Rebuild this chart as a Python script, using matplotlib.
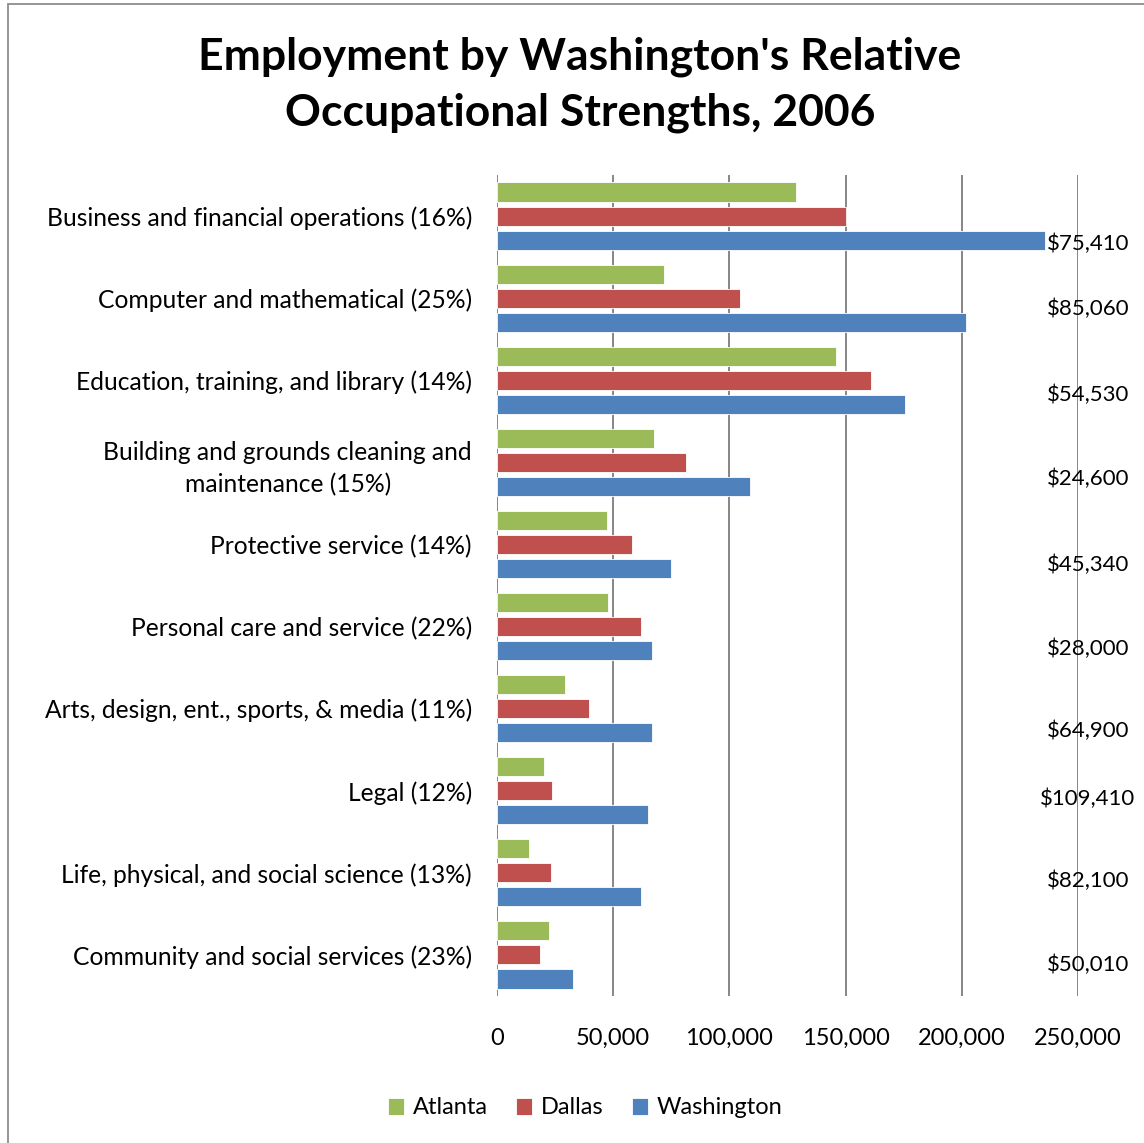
import numpy as np
import matplotlib.pyplot as plt
from matplotlib.patches import Rectangle
from matplotlib.ticker import FuncFormatter

plt.rcParams['font.family'] = ['Lato', 'DejaVu Sans']

occupations = [
    "Business and financial operations (16%)",
    "Computer and mathematical (25%)",
    "Education, training, and library (14%)",
    "Building and grounds cleaning and\nmaintenance (15%)",
    "Protective service (14%)",
    "Personal care and service (22%)",
    "Arts, design, ent., sports, & media (11%)",
    "Legal (12%)",
    "Life, physical, and social science (13%)",
    "Community and social services (23%)",
]
atlanta = [128500, 71800, 145700, 67500, 47300, 47700, 29200, 20200, 13800, 22400]
dallas = [150000, 104500, 160800, 81300, 58000, 61900, 39600, 23600, 23200, 18500]
washington = [236000, 202000, 175400, 108800, 74800, 66600, 66600, 64900, 61900, 32700]
salaries = ["$75,410", "$85,060", "$54,530", "$24,600", "$45,340",
            "$28,000", "$64,900", "$109,410", "$82,100", "$50,010"]

series = [("Atlanta", atlanta, "#9BBB59"),
          ("Dallas", dallas, "#C0504D"),
          ("Washington", washington, "#4F81BD")]

fig = plt.figure(figsize=(11.44, 11.43), dpi=100)
ax = fig.add_axes([0.4344, 0.1286, 0.5079, 0.7183])

y = np.arange(len(occupations))
pitch = 0.293
height = 0.232
for i, (name, vals, col) in enumerate(series):
    ax.barh(y + (i - 1) * pitch, vals, height=height, color=col,
            edgecolor='white', linewidth=0.6, label=name, zorder=3)

ax.set_ylim(len(occupations) - 0.5, -0.5)
ax.set_xlim(0, 250000)
ax.set_xticks(np.arange(0, 250001, 50000))
ax.xaxis.set_major_formatter(FuncFormatter(lambda v, p: f"{int(v):,}"))
ax.set_yticks(y)
ax.set_yticklabels(occupations)
for lab in ax.get_yticklabels():
    lab.set_multialignment('center')
    lab.set_linespacing(1.45)
ax.tick_params(axis='y', length=0, pad=18, labelsize=17.7)
ax.tick_params(axis='x', length=0, pad=23, labelsize=17)

ax.grid(axis='x', color='#868686', linewidth=1.4, zorder=0)
for s in ax.spines.values():
    s.set_visible(False)

# salary notes on the right edge
salary_y = [244, 309, 395, 479, 565, 649, 731, 799, 881, 965]
for txt, py in zip(salaries, salary_y):
    fig.text(1088 / 1144, 1 - py / 1143, txt, ha='center', va='center', fontsize=16)

fig.text(580 / 1144, 1 - 85 / 1143,
         "Employment by Washington's Relative\nOccupational Strengths, 2006",
         ha='center', va='center', fontsize=32, fontweight='bold', linespacing=1.47)

fig.legend(loc='center', bbox_to_anchor=(585 / 1144, 1 - 1108 / 1143), ncol=3,
           frameon=False, fontsize=17, handlelength=0.7, handleheight=0.7,
           handletextpad=0.35, columnspacing=1.2)

fig.patches.append(Rectangle((8 / 1144, -0.1), 1.2, 1.1 - 4 / 1143,
                             transform=fig.transFigure, fill=False,
                             edgecolor='#8c8c8c', linewidth=1.3))

fig.savefig("out.png", dpi=100)
